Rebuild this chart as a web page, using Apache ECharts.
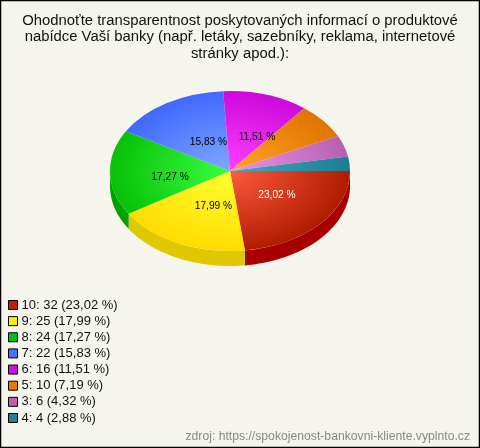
<!DOCTYPE html>
<html><head><meta charset="utf-8">
<style>html,body{margin:0;padding:0;background:#f5f5ee}#c{width:480px;height:448px}</style>
<script src="https://cdn.jsdelivr.net/npm/echarts@6/dist/echarts.min.js"></script>
</head><body><div id="c"></div>
<script>
const categories = ['10','9','8','7','6','5','3','4'];
const values = [32,25,24,22,16,10,6,4];
const topInner = ['#ff5a3c','#ffff30','#38ff40','#80a8ff','#ff40ff','#ffa428','#ea94ea','#44aac4'];
const topOuter = ['#b01c00','#ffdc00','#08c008','#4068ff','#cc08dc','#e07400','#b860b0','#1c7c94'];
const wallColors = ['#a80000','#e0c800','#00a000','#3050d0','#a000b0','#c06000','#905090','#106070'];
const legendColors = ['#c02000','#ffee00','#00c020','#4a70ff','#cc10dd','#e87a00','#c060b0','#208098'];
const labelColors = ['#ffffff','#000000','#000000','#000000','#000000'];
const labelNudgeX = [2,9,0,10,9];
const labelNudgeY = [-2,-1,5,5,4];

const total = values.reduce((a,b)=>a+b,0);
const pct = v => (v/total*100).toFixed(2).replace('.',',')+' %';
const CX=230, CY=171, RX=120, RY=80, DEPTH=15;

function startOf(i){ let s=0; for(let k=0;k<i;k++) s+=values[k]; return s/total*Math.PI*2; }

function wallPoints(a0,a1){
  const s=Math.max(a0,0), e=Math.min(a1,Math.PI);
  if(e<=s) return null;
  const top=[], bot=[];
  for(let n=0;n<=48;n++){
    const t=s+(e-s)*n/48, x=CX+RX*Math.cos(t), y=CY+RY*Math.sin(t);
    top.push([x,y]); bot.unshift([x,y+DEPTH]);
  }
  return top.concat(bot);
}

function makeSeries(i){
  return {
    type:'custom', name: categories[i]+': '+values[i]+' ('+pct(values[i])+')',
    coordinateSystem:'none', silent:true, animation:false,
    itemStyle:{color:legendColors[i]},
    data:[[values[i]]],
    renderItem:function(params,api){
      const a0=startOf(i), a1=a0+api.value(0)/total*Math.PI*2, mid=(a0+a1)/2;
      const kids=[];
      const w=wallPoints(a0,a1);
      if(w) kids.push({type:'polygon',shape:{points:w},style:{fill:wallColors[i]}});
      kids.push({type:'group',x:CX,y:CY,scaleY:RY/RX,children:[{
        type:'sector',
        shape:{cx:0,cy:0,r0:0,r:RX,startAngle:a0,endAngle:a1,clockwise:true},
        style:{fill:{type:'radial',x:0,y:0,r:RX,global:true,colorStops:[
          {offset:0,color:topInner[i]},{offset:1,color:topOuter[i]}]}}
      }]});
      if(i<labelColors.length){
        kids.push({type:'text',z2:10,style:{
          text:pct(values[i]),
          x:CX+0.5*RX*Math.cos(mid)+labelNudgeX[i],
          y:CY+0.5*RY*Math.sin(mid)+labelNudgeY[i],
          fill:labelColors[i],align:'center',verticalAlign:'middle',
          font:'10.2px "Liberation Sans", Arial, sans-serif'}});
      }
      return {type:'group',children:kids};
    }
  };
}

const chart=echarts.init(document.getElementById('c'),null,{renderer:'canvas'});
chart.setOption({
  animation:false,
  backgroundColor:'#f5f5ee',
  title:[
    {text:'Ohodnoťte transparentnost poskytovaných informací o produktové\nnabídce Vaší banky (např. letáky, sazebníky, reklama, internetové\nstránky apod.):',
     left:240,top:12.5,padding:0,textAlign:'center',
     textStyle:{fontFamily:'"Liberation Sans", Arial, sans-serif',fontSize:14.85,fontWeight:'normal',color:'#111',lineHeight:16.5}},
    {text:'zdroj: https://spokojenost-bankovni-kliente.vyplnto.cz',
     left:470,top:431,textAlign:'right',padding:0,
     textStyle:{fontFamily:'"Liberation Sans", Arial, sans-serif',fontSize:12.2,fontWeight:'normal',color:'#888888'}}
  ],
  legend:{
    orient:'vertical',left:8,top:298.5,padding:0,itemWidth:9,itemHeight:9,itemGap:3.14,
    icon:'rect',selectedMode:false,
    itemStyle:{borderColor:'#000',borderWidth:1},
    textStyle:{fontFamily:'"Liberation Sans", Arial, sans-serif',fontSize:13,color:'#111',padding:[0,0,0,-1]},
    data:categories.map((c,i)=>c+': '+values[i]+' ('+pct(values[i])+')')
  },
  graphic:[{type:'rect',silent:true,z:100,shape:{x:0.5,y:0.5,width:479,height:447},style:{fill:'none',stroke:'#000',lineWidth:1.5}}],
  series:categories.map((c,i)=>makeSeries(i))
});
</script></body></html>
